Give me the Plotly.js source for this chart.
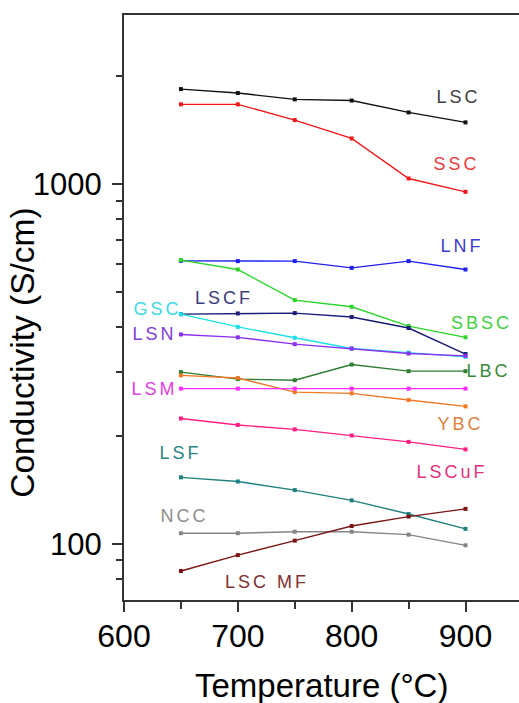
<!DOCTYPE html>
<html>
<head>
<meta charset="utf-8">
<script src="https://cdn.plot.ly/plotly-3.0.1.min.js"></script>
<style>
html,body{margin:0;padding:0;background:#fff;}
#chart{width:519px;height:703px;}
g.annotation:not([data-index="0"]):not([data-index="1"]) .annotation-text{letter-spacing:3px;}
</style>
</head>
<body>
<div id="chart"></div>
<script>
// Temperatures (°C)
const temps = [650, 700, 750, 800, 850, 900];

// Conductivity (S/cm)
const LSC   = [1838, 1792, 1721, 1708, 1583, 1485];
const SSC   = [1667, 1667, 1507, 1340, 1037, 952];
const LNF   = [612, 611, 611, 585, 611, 579];
const SBSC  = [615, 579, 476, 456, 403, 375];
const LSCF  = [435, 437, 438, 427, 398, 337];
const GSC   = [435, 401, 374, 349, 340, 331];
const LSN   = [382, 375, 359, 349, 338, 333];
const LBC   = [300, 287, 285, 315, 302, 302];
const YBC   = [294, 289, 264, 262, 251, 241];
const LSM   = [270, 270, 270, 270, 270, 270];
const LSCuF = [223, 214, 208, 200, 192, 183];
const LSF   = [153, 149, 141, 132, 121, 110];
const NCC   = [107, 107, 108, 108, 106, 99];
const LSCMF = [84, 93, 102, 112, 119, 125];

const seriesNames = ["LSC","SSC","LNF","SBSC","LSCF","GSC","LSN","LBC","YBC","LSM","LSCuF","LSF","NCC","LSCMF"];
const seriesValues = [LSC,SSC,LNF,SBSC,LSCF,GSC,LSN,LBC,YBC,LSM,LSCuF,LSF,NCC,LSCMF];
const lineColors = ["#111111","#f01818","#1f1fee","#2ad42a","#1c1c78","#1ee0e8","#8a30f0","#2e7d32","#f07a28","#ff2cff","#ff1f82","#1f8080","#858585","#7a1414"];
const labelTexts = ["LSC","SSC","LNF","SBSC","LSCF","GSC","LSN","LBC","YBC","LSM","LSCuF","LSF","NCC","LSC MF"];
const labelColors = ["#404040","#e83a3a","#3c3ccc","#40d040","#3a3a80","#40d8e0","#8040d8","#3a8a3a","#e08040","#e040e0","#e03080","#2a8585","#8c8c8c","#803030"];
const labelPos = [
  [0.848,0.860],[0.841,0.745],[0.856,0.605],[0.906,0.474],[0.253,0.516],
  [0.084,0.497],[0.078,0.455],[0.924,0.391],[0.851,0.301],[0.076,0.361],
  [0.830,0.219],[0.142,0.251],[0.152,0.144],[0.362,0.031]
];

const FONT = "Liberation Sans, Arial, sans-serif";

const traces = seriesNames.map((n, i) => ({
  type: "scatter",
  mode: "lines+markers",
  name: n,
  x: temps,
  y: seriesValues[i],
  line: {color: lineColors[i], width: 1.4},
  marker: {color: lineColors[i], size: 4, symbol: "square"},
  hoverinfo: "skip"
}));

const annotations = [
  {text: "Conductivity (S/cm)", xref: "paper", yref: "paper", x: -0.256, y: 0.4225,
   textangle: -90, showarrow: false, xanchor: "center", yanchor: "middle",
   font: {family: FONT, size: 33.5, color: "#000"}},
  {text: "Temperature (°C)", xref: "paper", yref: "paper", x: 0.5, y: -0.1453,
   showarrow: false, xanchor: "center", yanchor: "middle",
   font: {family: FONT, size: 33, color: "#000"}}
];
labelTexts.forEach((t, i) => {
  annotations.push({
    text: t, xref: "paper", yref: "paper", x: labelPos[i][0], y: labelPos[i][1],
    showarrow: false, xanchor: "center", yanchor: "middle",
    font: {family: FONT, size: 18, color: labelColors[i]}
  });
});

const layout = {
  width: 519, height: 703,
  margin: {l: 124, r: 0, t: 15, b: 103},
  paper_bgcolor: "#fff", plot_bgcolor: "#fff",
  showlegend: false,
  font: {family: FONT, size: 32, color: "#000"},
  xaxis: {
    range: [600, 947],
    tickmode: "array", tickvals: [600, 700, 800, 900],
    ticks: "outside", ticklen: 10, tickwidth: 2, tickcolor: "#333",
    ticklabelstandoff: -3,
    minor: {tickmode: "array", tickvals: [650, 750, 850], ticks: "outside", ticklen: 7, tickwidth: 2, tickcolor: "#333"},
    showline: true, linecolor: "#333", linewidth: 2, mirror: true,
    showgrid: false, zeroline: false,
    tickfont: {family: FONT, size: 32, color: "#000"}
  },
  yaxis: {
    type: "log",
    range: [1.8436, 3.4704],
    tickmode: "array", tickvals: [100, 1000], ticktext: ["100", "1000"],
    ticks: "outside", ticklen: 10, tickwidth: 2, tickcolor: "#333",
    ticklabelstandoff: 4,
    minor: {tickmode: "array", tickvals: [80, 90, 200, 300, 400, 500, 600, 700, 800, 900, 2000],
            ticks: "outside", ticklen: 6, tickwidth: 2, tickcolor: "#333"},
    showline: true, linecolor: "#333", linewidth: 2,
    showgrid: false, zeroline: false,
    tickfont: {family: FONT, size: 31, color: "#000"}
  },
  annotations: annotations
};

Plotly.newPlot("chart", traces, layout, {staticPlot: true, displayModeBar: false});
</script>
</body>
</html>
